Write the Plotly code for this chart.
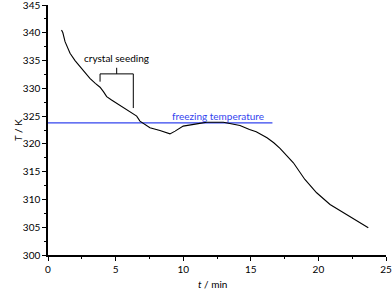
import plotly.graph_objects as go

t_min = [1.0, 1.1, 1.26, 1.45, 1.63, 2.0, 2.37, 2.75, 3.1, 3.5, 3.85, 4.1, 4.34, 4.7, 5.08, 5.5, 5.94, 6.25, 6.56, 6.8, 7.54, 8.28, 8.8, 9.02, 9.4, 10.0, 11.0, 11.74, 12.97, 14.2, 14.9, 15.4, 16.2, 16.7, 17.16, 18.15, 19.0, 19.87, 20.86, 21.84, 22.83, 23.69]
T_K = [340.5, 340.0, 338.4, 337.3, 336.3, 335.0, 333.9, 332.8, 331.8, 330.9, 330.2, 329.4, 328.5, 327.9, 327.3, 326.7, 326.1, 325.6, 325.0, 324.1, 322.9, 322.4, 322.0, 321.8, 322.3, 323.2, 323.6, 323.9, 323.9, 323.3, 322.6, 322.2, 321.1, 320.2, 319.2, 316.6, 313.6, 311.2, 309.1, 307.6, 306.1, 304.9]

freeze_T = 323.8
freeze_t = [0, 16.6]

bracket_t = [3.85, 3.85, 6.31, 6.31]
bracket_T = [331.2, 332.6, 332.6, 326.45]
stem_t = [5.08, 5.08]
stem_T = [332.6, 333.7]

x_ticks = [0, 5, 10, 15, 20, 25]
y_ticks = [300, 305, 310, 315, 320, 325, 330, 335, 340, 345]

fig = go.Figure()
fig.add_trace(go.Scatter(x=freeze_t, y=[freeze_T, freeze_T], mode="lines",
                         line=dict(color="#3344ee", width=1.2), hoverinfo="skip"))
fig.add_trace(go.Scatter(x=t_min, y=T_K, mode="lines", line=dict(color="black", width=1.1)))
fig.add_trace(go.Scatter(x=bracket_t, y=bracket_T, mode="lines", line=dict(color="black", width=1)))
fig.add_trace(go.Scatter(x=stem_t, y=stem_T, mode="lines", line=dict(color="black", width=1)))

fig.add_annotation(x=5.08, y=335.4, text="crystal seeding", showarrow=False,
                   font=dict(size=10, color="black"))
fig.add_annotation(x=12.6, y=325.0, text="freezing temperature", showarrow=False,
                   font=dict(size=10, color="#3344ee"))
fig.add_annotation(x=12.2, xref="x", y=-0.085, yref="paper", yanchor="top", text="<i>t</i> / min",
                   showarrow=False, font=dict(size=10, color="black"))
fig.add_annotation(x=-0.112, xref="paper", y=322.5, yref="y", text="<i>T</i> / K", textangle=-90,
                   showarrow=False, font=dict(size=10, color="black"))

axis_common = dict(showline=True, linecolor="black", linewidth=1.5, ticks="outside",
                   ticklen=4, tickwidth=1.2, tickcolor="black", showgrid=False, zeroline=False,
                   mirror=False, automargin=False, ticklabeloverflow="allow",
                   tickfont=dict(size=10, color="black"))
fig.update_xaxes(range=[0, 25], tickvals=x_ticks,
                 minor=dict(ticks="outside", ticklen=2.5, tickwidth=1, tickcolor="black", dtick=2.5, tick0=0),
                 **axis_common)
fig.update_yaxes(range=[300, 345], tickvals=y_ticks,
                 minor=dict(ticks="outside", ticklen=2.5, tickwidth=1, tickcolor="black", dtick=2.5, tick0=300),
                 **axis_common)

fig.update_layout(width=392, height=293, margin=dict(l=48, r=6, t=5, b=38),
                  plot_bgcolor="white", paper_bgcolor="white", showlegend=False,
                  font=dict(family="Lato, Open Sans, sans-serif"))
fig.write_html("out.html", config={"displayModeBar": False},
               post_script="document.body.style.margin='0';document.body.style.overflow='hidden';")
